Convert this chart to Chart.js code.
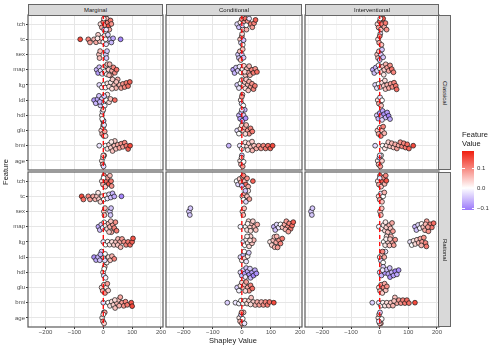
<!DOCTYPE html>
<html>
<head>
<meta charset="utf-8">
<script src="https://cdn.jsdelivr.net/npm/chart.js@4.4.1/dist/chart.umd.min.js"></script>
<style>
  body { margin: 0; background: #fff; font-family: "Liberation Sans", Arial, sans-serif; }
  #wrap { position: relative; width: 498px; height: 349px; overflow: hidden; }
  canvas { position: absolute; }
  .strip { position: absolute; background: #d9d9d9; border: 1px solid #666; box-sizing: border-box;
           font-size: 6px; color: #1a1a1a; display: flex; align-items: center; justify-content: center; }
  .strip span { white-space: nowrap; }
  .vstrip span { transform: rotate(90deg); }
  .lbl { position: absolute; white-space: nowrap; }
</style>
</head>
<body>
<div id="wrap"></div>
<script>
// categories and scales
const features = ['tch', 'tc', 'sex', 'map', 'ltg', 'ldl', 'hdl', 'glu', 'bmi', 'age'];
const methods = ['Marginal', 'Conditional', 'Interventional'];
const models = ['Classical', 'Rational'];
const xTicks = [-250, -200, -150, -100, -50, 0, 50, 100, 150, 200];
const legendTicks = [0.1, 0.0, -0.1];
const xMin = -261, xMax = 207;
const fvMin = -0.11, fvMax = 0.185;

// each panel: one list per feature of [shapley value, feature value]
const marginalClassical = [
  [[-10,0.03],[-5,0.07],[0,0.1],[3,-0.04],[6,0.08],[9,0.12],[12,0.05],[15,0.1],[18,0.14],[21,0.07],[25,0.11],[28,0.09],[2,0.02],[10,-0.02]],
  [[-80,0.15],[-52,0.1],[-46,0.08],[-32,0.06],[-25,0.07],[-18,0.04],[-12,0.05],[-6,0.02],[0,0.0],[4,0.03],[10,-0.02],[16,-0.03],[22,-0.05],[28,-0.06],[34,-0.07],[60,-0.1],[-20,0.02],[8,0.01]],
  [[-15,0.05],[-13,0.05],[-11,0.05],[9,-0.045],[11,-0.045],[13,-0.045]],
  [[-23,-0.06],[-18,-0.08],[-14,-0.05],[-9,-0.03],[-4,-0.02],[0,0.0],[5,0.02],[10,0.03],[14,0.05],[18,0.04],[22,0.06],[26,0.08],[30,0.07],[35,0.1],[40,0.09],[46,0.12],[12,0.01],[20,0.05]],
  [[-14,-0.03],[-5,-0.01],[2,0.0],[8,0.01],[14,0.02],[20,0.03],[26,0.02],[32,0.04],[38,0.05],[44,0.06],[50,0.07],[56,0.06],[62,0.08],[68,0.09],[74,0.1],[80,0.11],[86,0.12],[92,0.13],[45,0.05],[30,0.03]],
  [[-32,-0.08],[-26,-0.06],[-20,-0.07],[-15,-0.05],[-10,-0.04],[-5,-0.03],[0,-0.02],[5,-0.01],[10,0.0],[14,0.02],[20,0.03],[25,0.05],[40,0.12],[-12,-0.06],[3,-0.04]],
  [[-5,0.02],[-3,-0.02],[-1,0.05],[1,-0.04],[-4,0.0],[0,0.03]],
  [[-7,0.04],[-4,0.07],[-1,0.0],[2,0.06],[5,0.08],[8,0.03],[0,0.1],[3,-0.02]],
  [[-14,-0.02],[8,0.0],[14,0.02],[20,0.03],[26,0.04],[32,0.05],[38,0.06],[44,0.05],[50,0.07],[56,0.08],[62,0.09],[68,0.08],[74,0.1],[80,0.11],[86,0.13],[93,0.15],[40,0.04],[28,0.02]],
  [[-5,0.03],[-2,0.06],[1,-0.03],[3,0.08],[-1,0.0],[0,0.04]]
];

const conditionalClassical = [
  [[-16,-0.03],[-10,-0.05],[-5,0.02],[0,0.1],[4,0.03],[8,0.07],[12,0.12],[16,0.06],[20,0.09],[25,-0.02],[30,0.11],[36,0.08],[42,0.1],[47,0.13],[2,-0.04],[15,0.0]],
  [[-6,0.05],[-3,-0.03],[0,0.08],[3,0.0],[6,-0.05],[1,0.03]],
  [[-13,-0.045],[-10,-0.045],[-7,0.05],[-4,0.05],[0,-0.045],[3,0.05],[6,-0.045]],
  [[-30,-0.08],[-25,-0.06],[-20,-0.05],[-14,-0.04],[-8,-0.02],[-3,0.0],[2,0.02],[7,0.04],[12,0.05],[17,0.06],[22,0.08],[28,0.07],[34,0.1],[40,0.11],[46,0.09],[52,0.12],[10,0.03],[25,0.06]],
  [[-16,-0.04],[-10,-0.02],[-5,0.0],[0,0.02],[5,0.03],[10,0.05],[15,0.04],[20,0.06],[25,0.07],[30,0.08],[35,0.09],[40,0.1],[45,0.11],[12,0.03],[22,0.05]],
  [[-4,0.02],[-1,-0.03],[2,0.05],[5,0.0],[0,0.08]],
  [[-10,-0.06],[-6,-0.08],[-2,-0.05],[2,-0.07],[6,-0.04],[10,-0.06],[13,-0.09],[0,-0.02]],
  [[-16,-0.03],[-10,0.0],[-5,0.02],[0,0.04],[5,0.05],[10,0.07],[15,0.06],[20,0.08],[25,0.09],[30,0.1],[36,0.11],[12,0.03]],
  [[-45,-0.06],[-7,-0.02],[0,0.0],[6,0.01],[12,0.02],[18,0.03],[24,0.04],[30,0.05],[36,0.06],[42,0.05],[50,0.07],[58,0.08],[66,0.09],[74,0.1],[82,0.11],[90,0.12],[98,0.13],[106,0.15],[20,0.02],[35,0.04]],
  [[-6,0.02],[-3,0.06],[0,-0.04],[3,0.08],[6,0.0],[-1,0.04]]
];

const interventionalClassical = [
  [[-8,0.03],[-4,0.08],[0,0.12],[4,0.05],[8,0.1],[12,0.14],[16,0.07],[20,0.11],[24,0.09],[2,0.0]],
  [[-6,0.03],[-2,0.07],[2,-0.02],[6,0.05],[0,0.1]],
  [[-9,0.05],[-6,0.05],[-3,0.05],[0,-0.045],[4,-0.045],[8,-0.045],[12,-0.045]],
  [[-24,-0.07],[-19,-0.05],[-14,-0.06],[-9,-0.03],[-4,-0.01],[1,0.01],[6,0.03],[11,0.05],[16,0.04],[21,0.06],[26,0.08],[31,0.07],[36,0.09],[42,0.11],[48,0.1],[14,0.02]],
  [[-16,-0.03],[-10,-0.02],[-4,0.0],[2,0.01],[8,0.03],[14,0.04],[20,0.05],[26,0.06],[32,0.07],[38,0.08],[44,0.09],[50,0.1],[56,0.11],[59,0.12],[18,0.03]],
  [[-7,0.03],[-3,0.07],[1,-0.02],[5,0.05],[8,0.0]],
  [[-10,-0.04],[-5,-0.06],[0,-0.08],[5,-0.05],[10,-0.07],[15,-0.09],[20,-0.06],[26,-0.08],[31,-0.1],[36,-0.07],[8,-0.03]],
  [[-8,0.04],[-4,0.07],[0,0.02],[4,0.09],[8,0.05],[12,0.1],[16,0.06]],
  [[-16,-0.03],[10,0.0],[18,0.02],[24,0.03],[30,0.04],[36,0.05],[42,0.06],[48,0.05],[54,0.07],[60,0.08],[66,0.07],[72,0.09],[78,0.1],[84,0.1],[90,0.11],[96,0.12],[102,0.13],[117,0.15]],
  [[-7,0.02],[-4,0.06],[-1,-0.05],[2,0.08],[5,0.0],[8,0.04],[0,-0.02]]
];

const marginalRational = [
  [[-5,0.03],[-1,0.07],[3,0.1],[7,0.04],[11,0.12],[15,0.08],[19,0.14],[23,0.06],[27,0.11],[29,0.09],[1,0.0]],
  [[-75,0.15],[-69,0.12],[-52,0.1],[-46,0.08],[-35,0.07],[-28,0.06],[-22,0.05],[-15,0.04],[-10,0.03],[-4,0.02],[2,0.0],[8,0.01],[14,-0.02],[20,-0.03],[26,-0.05],[32,-0.06],[38,-0.07],[63,-0.1],[-18,0.02]],
  [[2,0.05],[4,0.05],[6,0.05],[23,-0.045],[25,-0.045],[27,-0.045]],
  [[-17,-0.07],[-12,-0.05],[-7,-0.04],[-2,-0.02],[3,0.0],[8,0.02],[13,0.03],[18,0.05],[23,0.06],[28,0.07],[33,0.08],[38,0.1],[42,0.09],[46,0.11],[20,0.04],[26,0.05]],
  [[0,-0.02],[8,0.0],[15,0.01],[22,0.02],[30,0.03],[37,0.04],[44,0.05],[51,0.06],[58,0.07],[65,0.08],[72,0.09],[79,0.1],[86,0.11],[93,0.12],[100,0.13],[103,0.14],[50,0.05],[60,0.06]],
  [[-32,-0.09],[-25,-0.07],[-18,-0.06],[-12,-0.05],[-6,-0.04],[0,-0.02],[6,0.0],[12,0.01],[18,0.03],[24,0.05],[30,0.06],[38,0.1],[-10,-0.06],[5,-0.03]],
  [[-1,0.02],[2,-0.03],[5,0.04],[8,-0.01],[3,0.0]],
  [[-6,0.03],[-2,0.07],[2,0.05],[6,0.09],[10,0.02],[14,0.08],[17,0.04]],
  [[0,-0.03],[17,0.0],[23,0.02],[29,0.03],[35,0.04],[41,0.05],[47,0.06],[53,0.05],[59,0.07],[65,0.08],[71,0.09],[77,0.1],[83,0.11],[97,0.14],[100,0.15],[40,0.03],[55,0.06]],
  [[-4,0.02],[-1,0.06],[2,-0.04],[5,0.08],[0,0.0],[3,0.04]]
];

const conditionalRational = [
  [[-18,0.0],[-13,-0.03],[-8,0.04],[-3,0.06],[2,0.08],[6,0.1],[10,0.05],[14,0.12],[18,0.09],[22,0.07],[38,0.13],[0,-0.05]],
  [[2,0.04],[6,0.0],[10,0.07],[14,-0.03],[18,0.05],[22,0.02],[26,0.08],[12,-0.05]],
  [[-182,-0.045],[-179,-0.045],[-177,-0.045],[2,0.05],[5,0.05],[8,0.05]],
  [[-5,-0.01],[13,0.01],[18,0.02],[23,0.03],[28,0.04],[33,0.05],[38,0.04],[43,0.06],[48,0.05],[53,0.07],[110,-0.06],[115,-0.05],[120,-0.03],[127,-0.02],[133,0.0],[140,0.05],[147,0.07],[153,0.08],[158,0.09],[163,0.1],[168,0.11],[173,0.12],[177,0.13],[20,0.01],[30,0.03],[150,0.06],[160,0.08]],
  [[5,-0.02],[10,0.0],[15,0.01],[20,0.02],[25,0.03],[30,0.04],[35,0.05],[41,0.06],[18,0.01],[28,0.03],[97,0.02],[103,0.04],[108,0.05],[113,0.06],[118,0.07],[123,0.08],[128,0.09],[133,0.1],[139,0.11],[112,0.05],[120,0.06]],
  [[-5,-0.03],[0,0.02],[5,-0.05],[10,0.04],[15,-0.02],[20,0.01],[24,-0.04],[8,0.0]],
  [[-5,-0.03],[0,-0.06],[5,-0.04],[10,-0.08],[15,-0.05],[20,-0.07],[25,-0.09],[30,-0.06],[35,-0.08],[40,-0.1],[45,-0.07],[50,-0.09],[12,-0.02],[28,-0.04]],
  [[-16,-0.04],[-10,-0.01],[-5,0.02],[0,0.04],[5,0.06],[10,0.05],[15,0.08],[20,0.07],[25,0.09],[30,0.1],[36,0.12],[12,0.03]],
  [[-50,-0.04],[-22,-0.02],[-10,-0.01],[-3,0.0],[4,0.01],[11,0.02],[18,0.03],[25,0.04],[32,0.05],[39,0.04],[46,0.06],[53,0.07],[60,0.08],[67,0.07],[74,0.09],[81,0.1],[88,0.11],[95,0.12],[110,0.15],[30,0.03]],
  [[-9,0.02],[-6,0.06],[-3,-0.04],[0,0.08],[3,0.0],[6,0.04],[9,-0.02],[-1,0.1]]
];

const interventionalRational = [
  [[-7,0.03],[-3,0.07],[1,0.11],[5,0.05],[9,0.13],[13,0.09],[17,0.06],[21,0.1],[23,0.14],[0,-0.02]],
  [[-4,0.03],[0,0.07],[4,-0.02],[8,0.05],[12,0.0],[16,0.06]],
  [[-240,-0.045],[-237,-0.045],[-235,-0.045],[1,0.05],[4,0.05],[7,0.05]],
  [[-3,-0.01],[8,0.01],[13,0.02],[18,0.03],[23,0.04],[28,0.05],[33,0.06],[38,0.05],[43,0.07],[46,0.08],[20,0.02],[123,-0.06],[128,-0.05],[134,-0.03],[140,-0.01],[146,0.01],[152,0.05],[158,0.07],[164,0.08],[170,0.09],[176,0.1],[182,0.11],[188,0.12],[160,0.06],[168,0.08]],
  [[14,0.0],[19,0.02],[24,0.03],[29,0.04],[34,0.05],[39,0.06],[44,0.07],[49,0.08],[54,0.09],[22,0.01],[36,0.04],[106,-0.02],[112,0.0],[118,0.02],[124,0.03],[130,0.04],[136,0.06],[142,0.07],[148,0.08],[154,0.09],[160,0.1],[163,0.11],[145,0.06]],
  [[0,0.02],[4,-0.03],[8,0.05],[12,0.0],[16,0.07],[20,-0.02],[10,0.1]],
  [[0,-0.03],[6,-0.06],[12,-0.04],[18,-0.08],[24,-0.05],[30,-0.07],[36,-0.09],[42,-0.06],[48,-0.08],[54,-0.1],[60,-0.07],[66,-0.09],[10,-0.02],[35,-0.05]],
  [[-3,0.03],[1,0.06],[5,0.08],[9,0.04],[13,0.1],[17,0.07],[21,0.05],[25,0.09]],
  [[-26,-0.04],[-3,-0.02],[4,0.0],[11,0.01],[18,0.02],[25,0.03],[32,0.04],[39,0.05],[46,0.06],[53,0.05],[60,0.07],[67,0.08],[74,0.09],[81,0.1],[88,0.11],[95,0.12],[102,0.12],[123,0.15],[50,0.05]],
  [[-5,0.02],[-2,0.06],[1,-0.04],[4,0.08],[7,0.0],[0,0.04],[-3,-0.02]]
];

const panelData = [
  [marginalClassical, conditionalClassical, interventionalClassical],
  [marginalRational, conditionalRational, interventionalRational]
];

// layout of the panels on the page
const colX = [28, 166, 305], colW = [135, 136, 134];
const rowY = [15, 172], rowH = 155;
const family = '"Liberation Sans", Arial, sans-serif';
const wrap = document.getElementById('wrap');

function fvColor(v) {
  const mid = [255, 255, 255], lo = [155, 120, 250], hi = [240, 30, 15];
  const t = v < 0 ? Math.min(v / fvMin, 1) : Math.min(v / fvMax, 1);
  const end = v < 0 ? lo : hi;
  return 'rgb(' + mid.map((c, i) => Math.round(c + (end[i] - c) * t)).join(',') + ')';
}

function fmt(v) {
  return v < 0 ? '\u2212' + (-v) : String(v);
}

// simple beeswarm: vertical offset in px for each point
function swarm(vals, pxPerUnit, diam, cap) {
  const order = vals.map((v, i) => i).sort((a, b) => vals[a] - vals[b]);
  const placed = [];
  const out = [];
  order.forEach(i => {
    const x = vals[i] * pxPerUnit;
    const near = placed.filter(p => Math.abs(p.x - x) < diam);
    const cands = [0];
    near.forEach(p => {
      const dy = Math.sqrt(diam * diam - (p.x - x) * (p.x - x));
      cands.push(p.y + dy, p.y - dy);
    });
    cands.sort((a, b) => Math.abs(a) - Math.abs(b));
    let y = cands.find(c => near.every(p => (p.x - x) ** 2 + (p.y - c) ** 2 >= diam * diam - 1e-6));
    if (y === undefined) y = 0;
    y = Math.max(-cap, Math.min(cap, y));
    placed.push({ x: x, y: y });
    out[i] = y;
  });
  return out;
}

const panelDeco = {
  id: 'panelDeco',
  afterDatasetsDraw(chart) {
    const { ctx, chartArea: a } = chart;
    const px = chart.scales.x.getPixelForValue(0);
    ctx.save();
    ctx.strokeStyle = '#ff0000';
    ctx.lineWidth = 1.3;
    ctx.setLineDash([4, 3]);
    ctx.beginPath();
    ctx.moveTo(px, a.top);
    ctx.lineTo(px, a.bottom);
    ctx.stroke();
    ctx.restore();
  },
  afterDraw(chart) {
    const { ctx, chartArea: a } = chart;
    ctx.save();
    ctx.strokeStyle = '#5a5a5a';
    ctx.lineWidth = 1.2;
    ctx.strokeRect(a.left, a.top, a.right - a.left, a.bottom - a.top);
    ctx.restore();
  }
};

function makePanel(r, c) {
  const pw = colW[c], ph = rowH;
  const L = c === 0 ? 28 : 6, R = 10, T = 6, B = r === 1 ? 16 : 6;
  const cv = document.createElement('canvas');
  cv.width = pw + L + R; cv.height = ph + T + B;
  cv.style.left = (colX[c] - L) + 'px';
  cv.style.top = (rowY[r] - T) + 'px';
  cv.style.width = cv.width + 'px';
  cv.style.height = cv.height + 'px';
  wrap.appendChild(cv);

  const pxPerUnit = pw / (xMax - xMin);
  const pxPerCat = ph / 10.2;
  const pts = [], cols = [];
  panelData[r][c].forEach((group, fi) => {
    const offs = swarm(group.map(p => p[0]), pxPerUnit, 3.6, 5.5);
    group.forEach((p, k) => {
      pts.push({ x: p[0], y: fi + offs[k] / pxPerCat });
      cols.push(fvColor(p[1]));
    });
  });

  new Chart(cv, {
    type: 'scatter',
    data: {
      datasets: [{
        data: pts,
        pointRadius: 2.4,
        pointHoverRadius: 2.4,
        pointBackgroundColor: cols,
        pointBorderColor: 'rgba(15,15,15,0.9)',
        pointBorderWidth: 0.75
      }]
    },
    options: {
      responsive: false,
      animation: false,
      devicePixelRatio: 1,
      events: [],
      layout: { padding: { left: c === 0 ? 0 : L, right: R, top: T, bottom: r === 1 ? 0 : B } },
      plugins: { legend: { display: false }, tooltip: { enabled: false } },
      scales: {
        x: {
          type: 'linear', min: xMin, max: xMax,
          afterBuildTicks: s => { s.ticks = xTicks.map(v => ({ value: v })); },
          afterFit: s => { s.height = r === 1 ? B : 0; },
          ticks: {
            display: r === 1, autoSkip: false, maxRotation: 0, padding: 0,
            color: '#4d4d4d', font: { size: 6, family: family },
            callback: v => (v % 100 === 0 ? fmt(v) : '')
          },
          grid: {
            color: ctx => (ctx.tick && ctx.tick.value % 100 === 0 ? '#e6e6e6' : '#f1f1f1'),
            lineWidth: ctx => (ctx.tick && ctx.tick.value % 100 === 0 ? 1 : 0.7),
            drawTicks: r === 1, tickLength: 2,
            tickColor: ctx => (ctx.tick && ctx.tick.value % 100 === 0 ? '#333' : 'rgba(0,0,0,0)')
          },
          border: { display: false }
        },
        y: {
          type: 'linear', reverse: true, min: -0.6, max: 9.6,
          afterBuildTicks: s => { s.ticks = features.map((f, i) => ({ value: i })); },
          afterFit: s => { s.width = c === 0 ? L : 0; },
          ticks: {
            display: c === 0, autoSkip: false, padding: 1,
            color: '#4d4d4d', font: { size: 6, family: family },
            callback: v => features[v]
          },
          grid: { color: '#e6e6e6', lineWidth: 1, drawTicks: c === 0, tickLength: 2, tickColor: '#333' },
          border: { display: false }
        }
      }
    },
    plugins: [panelDeco]
  });
}

for (let r = 0; r < 2; r++) for (let c = 0; c < 3; c++) makePanel(r, c);

// strips
function addDiv(cls, css, html) {
  const d = document.createElement('div');
  d.className = cls;
  Object.assign(d.style, css);
  d.innerHTML = html;
  wrap.appendChild(d);
  return d;
}
methods.forEach((m, c) => {
  addDiv('strip', { left: colX[c] + 'px', top: '4px', width: colW[c] + 'px', height: '12px' }, '<span>' + m + '</span>');
});
models.forEach((m, r) => {
  addDiv('strip vstrip', { left: '438px', top: rowY[r] + 'px', width: '13px', height: rowH + 'px' }, '<span>' + m + '</span>');
});

// axis titles
addDiv('lbl', { left: '0px', top: '166px', width: '14px', height: '12px', fontSize: '7.5px', color: '#1a1a1a',
  transform: 'rotate(-90deg)', display: 'flex', justifyContent: 'center' }, 'Feature');
addDiv('lbl', { left: '183px', top: '336px', width: '100px', textAlign: 'center', fontSize: '7.5px', color: '#1a1a1a' }, 'Shapley Value');

// colour bar legend
const barTop = 151, barH = 59;
addDiv('lbl', { left: '462px', top: '131px', fontSize: '7.5px', lineHeight: '8.5px', color: '#1a1a1a' }, 'Feature<br>Value');
const midPct = (-fvMin / (fvMax - fvMin) * 100).toFixed(1);
addDiv('lbl', { left: '462px', top: barTop + 'px', width: '12px', height: barH + 'px',
  background: 'linear-gradient(to top, ' + fvColor(fvMin) + ' 0%, #ffffff ' + midPct + '%, ' + fvColor(fvMax) + ' 100%)' }, '');
legendTicks.forEach(v => {
  const y = barTop + (fvMax - v) / (fvMax - fvMin) * barH;
  addDiv('lbl', { left: '462px', top: (y - 0.5) + 'px', width: '2.5px', height: '1px', background: '#fff' }, '');
  addDiv('lbl', { left: '471.5px', top: (y - 0.5) + 'px', width: '2.5px', height: '1px', background: '#fff' }, '');
  addDiv('lbl', { left: '477px', top: (y - 4) + 'px', fontSize: '6px', lineHeight: '8px', color: '#333' }, v.toFixed(1).replace('-', '\u2212'));
});
</script>
</body>
</html>
